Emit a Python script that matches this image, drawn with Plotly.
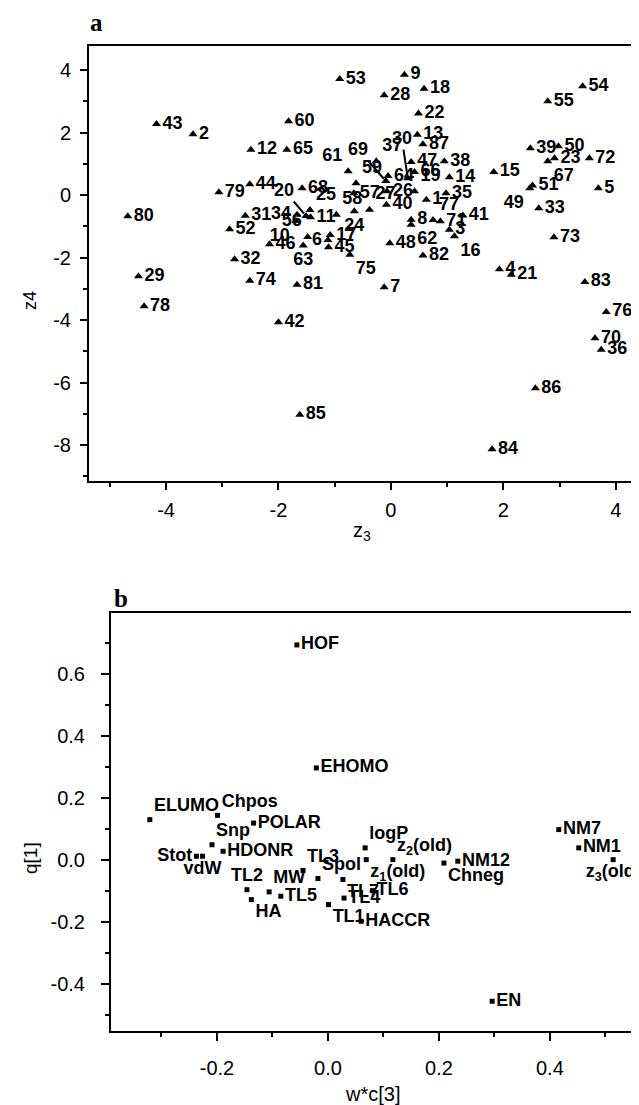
import plotly.graph_objects as go

# ---------------- Panel a data (z3, z4 scores) ----------------
a_ids = ["53", "43", "2", "60", "12", "65", "69", "61", "79", "44", "20", "68",
         "9", "28", "18", "22", "30", "13", "87", "37", "47", "38", "66", "14",
         "15", "39", "50", "23", "67", "72", "55", "54", "5", "51", "49", "64",
         "59", "80", "31", "52", "34", "10", "11", "25", "58", "56", "6", "17",
         "63", "46", "45", "75", "32", "29", "74", "81", "78", "42", "57", "26",
         "19", "1", "35", "40", "27", "24", "8", "62", "77", "71", "41", "3",
         "16", "48", "82", "7", "4", "21", "33", "73", "83", "76", "70", "36",
         "86", "84", "85"]
a_z3 = [-0.91, -4.17, -3.52, -1.82, -2.49, -1.85, -0.09, -0.76, -3.06, -2.51, -1.51, -1.58,
        0.24, -0.12, 0.59, 0.49, 0.30, 0.47, 0.57, -0.26, 0.36, 0.95, 0.42, 1.04,
        1.83, 2.48, 2.98, 2.91, 2.79, 3.53, 2.79, 3.41, 3.69, 2.52, 2.47, -0.05,
        -0.62, -4.68, -2.59, -2.87, -1.67, -1.69, -1.43, -1.44, -0.97, -1.48, -1.12, -1.08,
        -1.56, -2.16, -1.11, -0.73, -2.78, -4.49, -2.51, -1.67, -4.39, -2.00, -0.66, -0.07,
        0.42, 0.63, 0.98, -0.08, -0.38, -0.65, 0.36, 0.36, 0.75, 0.88, 1.28, 1.04,
        1.13, -0.02, 0.57, -0.12, 1.93, 2.14, 2.63, 2.90, 3.45, 3.83, 3.63, 3.74,
        2.57, 1.80, -1.62]
a_z4 = [3.71, 2.27, 1.95, 2.36, 1.45, 1.45, 0.45, 0.76, 0.09, 0.35, -0.67, 0.22,
        3.85, 3.19, 3.40, 2.61, 0.54, 1.93, 1.63, 1.08, 1.06, 1.08, 0.74, 0.57,
        0.74, 1.50, 1.56, 1.18, 1.08, 1.18, 3.00, 3.48, 0.22, 0.31, 0.22, 0.61,
        0.38, -0.68, -0.66, -1.09, -0.63, -0.83, -0.71, -0.48, -0.63, -1.34, -1.44, -1.28,
        -1.61, -1.57, -1.67, -1.91, -2.05, -2.60, -2.74, -2.87, -3.56, -4.07, 0.06, 0.12,
        0.12, -0.15, 0.06, -0.31, -0.47, -0.52, -0.79, -0.95, -0.80, -0.84, -0.65, -1.11,
        -1.32, -1.54, -1.93, -2.95, -2.37, -2.55, -0.42, -1.35, -2.78, -3.74, -4.58, -4.95,
        -6.18, -8.13, -7.03]

a_xticks = [-4, -2, 0, 2, 4]
a_xticklabels = ["-4", "-2", "0", "2", "4"]
a_yticks = [4, 2, 0, -2, -4, -6, -8]
a_yticklabels = ["4", "2", "0", "-2", "-4", "-6", "-8"]

# ---------------- Panel b data (loadings) ----------------
b_names = ["HOF", "EHOMO", "ELUMO", "Chpos", "POLAR", "Snp", "Stot", "vdW", "HDONR",
           "TL3", "TL2", "MW", "HA", "TL5", "Spol", "TL1", "TL7", "TL4", "TL6",
           "HACCR", "logP", "z<sub>1</sub>(old)", "z<sub>2</sub>(old)", "Chneg", "NM12",
           "NM7", "NM1", "z<sub>3</sub>(old)", "EN"]
b_w = [-0.056, -0.021, -0.321, -0.199, -0.134, -0.209, -0.237, -0.226, -0.189,
       -0.045, -0.146, -0.106, -0.138, -0.085, -0.018, 0.001, 0.027, 0.029, 0.080,
       0.060, 0.067, 0.069, 0.117, 0.209, 0.234,
       0.416, 0.452, 0.514, 0.296]
b_q = [0.693, 0.296, 0.129, 0.143, 0.118, 0.048, 0.011, 0.011, 0.027,
       -0.035, -0.097, -0.104, -0.129, -0.118, -0.061, -0.145, -0.064, -0.124, -0.100,
       -0.199, 0.038, 0.000, 0.000, -0.011, -0.005,
       0.097, 0.038, 0.000, -0.457]

b_xticks = [-0.2, 0.0, 0.2, 0.4]
b_xticklabels = ["-0.2", "0.0", "0.2", "0.4"]
b_yticks = [0.6, 0.4, 0.2, 0.0, -0.2, -0.4]
b_yticklabels = ["0.6", "0.4", "0.2", "0.0", "-0.2", "-0.4"]

# ---------------- label placement (style) ----------------
a_pos = {"61": "top left", "37": "top right", "34": "middle left", "10": "bottom left",
         "25": "top right", "58": "top right", "56": "top left", "6": "middle left",
         "63": "bottom center", "75": "bottom right", "24": "bottom center",
         "49": "bottom left", "67": "bottom right", "77": "top right", "16": "bottom right",
         "62": "bottom right", "19": "top right", "59": "top right", "27": "top right"}
a_leader = {"20": (-22, -26), "69": (-28, -32), "30": (-6, -40)}

b_pos = {"ELUMO": "top right", "Chpos": "top right", "Snp": "top right",
         "Stot": "middle left", "vdW": "bottom center", "TL3": "top right",
         "TL2": "top center", "MW": "top right", "HA": "bottom right",
         "Spol": "top right", "TL1": "bottom right", "TL7": "bottom right",
         "logP": "top right", "z<sub>1</sub>(old)": "bottom right",
         "z<sub>2</sub>(old)": "top right", "Chneg": "bottom right",
         "z<sub>3</sub>(old)": "bottom center"}

W, H = 639, 1105
LBL = dict(family="Arial", size=18, color="black")
TICKF = dict(family="Arial", size=20, color="black")

# split panel a into directly labelled points and points with leader lines
lab = [k for k, i in enumerate(a_ids) if i not in a_leader]
led = [k for k, i in enumerate(a_ids) if i in a_leader]

fig = go.Figure()
fig.add_trace(go.Scatter(x=[a_z3[k] for k in lab], y=[a_z4[k] for k in lab],
                         mode="markers+text",
                         text=["<b>%s</b>" % a_ids[k] for k in lab],
                         textposition=[a_pos.get(a_ids[k], "middle right") for k in lab],
                         textfont=LBL,
                         marker=dict(symbol="triangle-up", size=8, color="black"),
                         xaxis="x", yaxis="y", showlegend=False, cliponaxis=False))
fig.add_trace(go.Scatter(x=[a_z3[k] for k in led], y=[a_z4[k] for k in led],
                         mode="markers",
                         marker=dict(symbol="triangle-up", size=8, color="black"),
                         xaxis="x", yaxis="y", showlegend=False, cliponaxis=False))
fig.add_trace(go.Scatter(x=b_w, y=b_q, mode="markers+text",
                         text=["<b>%s</b>" % n for n in b_names],
                         textposition=[b_pos.get(n, "middle right") for n in b_names],
                         textfont=LBL,
                         marker=dict(symbol="square", size=5, color="black"),
                         xaxis="x2", yaxis="y2", showlegend=False, cliponaxis=False))

annotations = []
for k in led:
    ax, ay = a_leader[a_ids[k]]
    annotations.append(dict(x=a_z3[k], y=a_z4[k], xref="x", yref="y",
                            text="<b>%s</b>" % a_ids[k],
                            showarrow=True, arrowhead=0, arrowwidth=2, arrowcolor="black",
                            ax=ax, ay=ay, font=LBL, standoff=3))

def pl(px, py, text, size, family="Arial", angle=0, bold=False):
    t = "<b>%s</b>" % text if bold else text
    return dict(x=px / W, y=1 - py / H, xref="paper", yref="paper", text=t,
                showarrow=False, textangle=angle, xanchor="center", yanchor="middle",
                font=dict(family=family, size=size, color="black"))

annotations += [
    pl(88, 15, "a", 25, family="Times New Roman, Liberation Serif, serif", bold=True),
    pl(113, 590, "b", 25, family="Times New Roman, Liberation Serif, serif", bold=True),
    pl(354, 523, "z<sub>3</sub>", 20),
    pl(22, 293, "z4", 18, angle=-90),
    pl(364, 1086, "w*c[3]", 20),
    pl(22, 850, "q[1]", 19, angle=-90),
]

def axis_common(**kw):
    d = dict(showline=True, linecolor="black", linewidth=2, ticks="outside",
             tickwidth=2, tickcolor="black", showgrid=False, zeroline=False,
             tickfont=TICKF, tickmode="array")
    d.update(kw)
    return d

fig.update_layout(
    width=W, height=H, margin=dict(l=0, r=0, t=0, b=0),
    paper_bgcolor="white", plot_bgcolor="white",
    xaxis=axis_common(domain=[81 / W, 637 / W], range=[-5.37, 4.52], anchor="y",
                      mirror=True, ticklen=7, tickvals=a_xticks, ticktext=a_xticklabels,
                      ticklabelstandoff=3,
                      minor=dict(tickmode="linear", tick0=1, dtick=2, ticklen=4,
                                 tickwidth=1.5, ticks="outside", tickcolor="black")),
    yaxis=axis_common(domain=[1 - 473 / H, 1 - 38 / H], range=[-9.15, 4.77], anchor="x",
                      mirror=True, ticklen=7, tickvals=a_yticks, ticktext=a_yticklabels,
                      ticklabelstandoff=5,
                      minor=dict(tickmode="linear", tick0=1, dtick=2, ticklen=4,
                                 tickwidth=1.5, ticks="outside", tickcolor="black")),
    xaxis2=axis_common(domain=[103 / W, 1.0], range=[-0.391, 0.575], anchor="y2",
                       mirror=True, ticklen=8, tickvals=b_xticks, ticktext=b_xticklabels,
                       ticklabelstandoff=10,
                       minor=dict(tickmode="linear", tick0=0.1, dtick=0.2, ticklen=4,
                                  tickwidth=1.5, ticks="outside", tickcolor="black")),
    yaxis2=axis_common(domain=[1 - 1023 / H, 1 - 605 / H], range=[-0.553, 0.796], anchor="x2",
                       mirror=False, ticklen=8, tickvals=b_yticks, ticktext=b_yticklabels,
                       ticklabelstandoff=12,
                       minor=dict(tickmode="linear", tick0=0.1, dtick=0.2, ticklen=4,
                                  tickwidth=1.5, ticks="outside", tickcolor="black")),
    annotations=annotations,
)

fig.write_html("out.html")
